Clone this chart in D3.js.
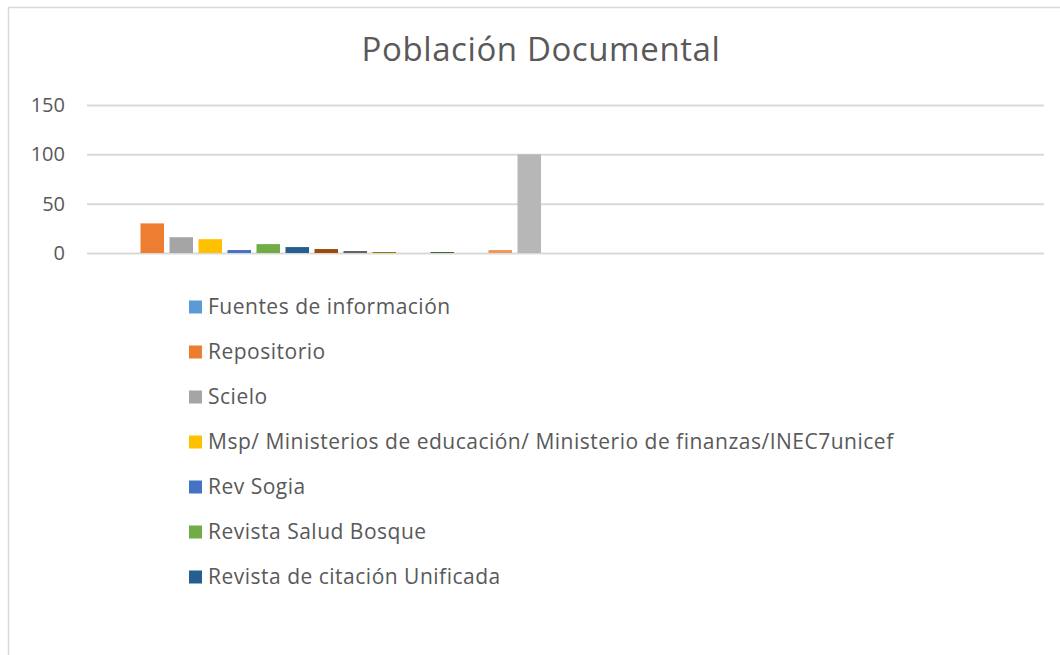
<!DOCTYPE html>
<html>
<head>
<meta charset="utf-8">
<script src="https://cdn.jsdelivr.net/npm/d3@7"></script>
<style>
  html, body { margin: 0; padding: 0; background: #fff; }
  svg { display: block; }
  text { font-family: "Open Sans", sans-serif; fill: #595959; }
</style>
</head>
<body>
<div id="chart"></div>
<script>
(function() {
  'use strict';

  // one visible category, the second one is empty
  var categories = ["Población", ""];
  var seriesValues = [0, 30, 16, 14, 3, 9, 6, 4, 2, 1, 0, 1, 0, 3, 100];
  var seriesColors = ["#5B9BD5", "#ED7D31", "#A5A5A5", "#FFC000", "#4472C4", "#70AD47",
                      "#255E91", "#9E480E", "#636363", "#997300", "#264478", "#43682B",
                      "#7CAFDD", "#F1975A", "#B7B7B7"];
  // only the first seven legend entries fit in the chart
  var legendNames = [
    "Fuentes de información",
    "Repositorio",
    "Scielo",
    "Msp/ Ministerios de educación/ Ministerio de finanzas/INEC7unicef",
    "Rev Sogia",
    "Revista Salud Bosque",
    "Revista de citación Unificada"
  ];
  var yTicks = [0, 50, 100, 150];

  var width = 1060, height = 655;
  var plot = {left: 87, right: 1044, top: 105, bottom: 253};

  var svg = d3.select("#chart").append("svg")
    .attr("width", width)
    .attr("height", height);

  // chart frame (runs past the right and bottom edge)
  svg.append("path")
    .attr("d", "M8.5," + height + "V7.5H" + width)
    .attr("fill", "none")
    .attr("stroke", "#d9d9d9")
    .attr("stroke-width", 1.5);

  svg.append("text")
    .attr("x", 541)
    .attr("y", 61)
    .attr("text-anchor", "middle")
    .attr("font-size", 33)
    .attr("letter-spacing", "0.6px")
    .text("Población Documental");

  var y = d3.scaleLinear().domain([0, 150]).range([plot.bottom, plot.top]);
  var x0 = d3.scaleBand().domain(d3.range(categories.length)).range([plot.left, plot.right]);
  var x1 = d3.scaleBand().domain(d3.range(seriesValues.length))
    .range([0, x0.bandwidth()])
    .paddingInner(0.19)
    .paddingOuter(0.845);

  // gridlines
  svg.append("g").selectAll("line")
    .data(yTicks)
    .enter().append("line")
    .attr("x1", plot.left)
    .attr("x2", plot.right)
    .attr("y1", function(d) { return y(d) + 0.5; })
    .attr("y2", function(d) { return y(d) + 0.5; })
    .attr("stroke", "#d9d9d9")
    .attr("stroke-width", 2);

  svg.append("g").selectAll("text")
    .data(yTicks)
    .enter().append("text")
    .attr("x", 65)
    .attr("y", function(d) { return y(d); })
    .attr("dy", "0.35em")
    .attr("text-anchor", "end")
    .attr("font-size", 20)
    .text(function(d) { return d; });

  // bars, all in the first category
  svg.append("g").selectAll("rect")
    .data(seriesValues)
    .enter().append("rect")
    .attr("x", function(d, i) { return x0(0) + x1(i); })
    .attr("y", function(d) { return y(d); })
    .attr("width", x1.bandwidth())
    .attr("height", function(d) { return y(0) - y(d); })
    .attr("fill", function(d, i) { return seriesColors[i]; });

  // legend
  var legend = svg.append("g").selectAll("g")
    .data(legendNames)
    .enter().append("g")
    .attr("transform", function(d, i) { return "translate(189," + (307 + i * 45) + ")"; });

  legend.append("rect")
    .attr("x", 0)
    .attr("y", -6.5)
    .attr("width", 13)
    .attr("height", 13)
    .attr("fill", function(d, i) { return seriesColors[i]; });

  legend.append("text")
    .attr("x", 19)
    .attr("y", 0)
    .attr("dy", "0.35em")
    .attr("font-size", 21)
    .attr("letter-spacing", "0.5px")
    .text(function(d) { return d; });
}());
</script>
</body>
</html>
